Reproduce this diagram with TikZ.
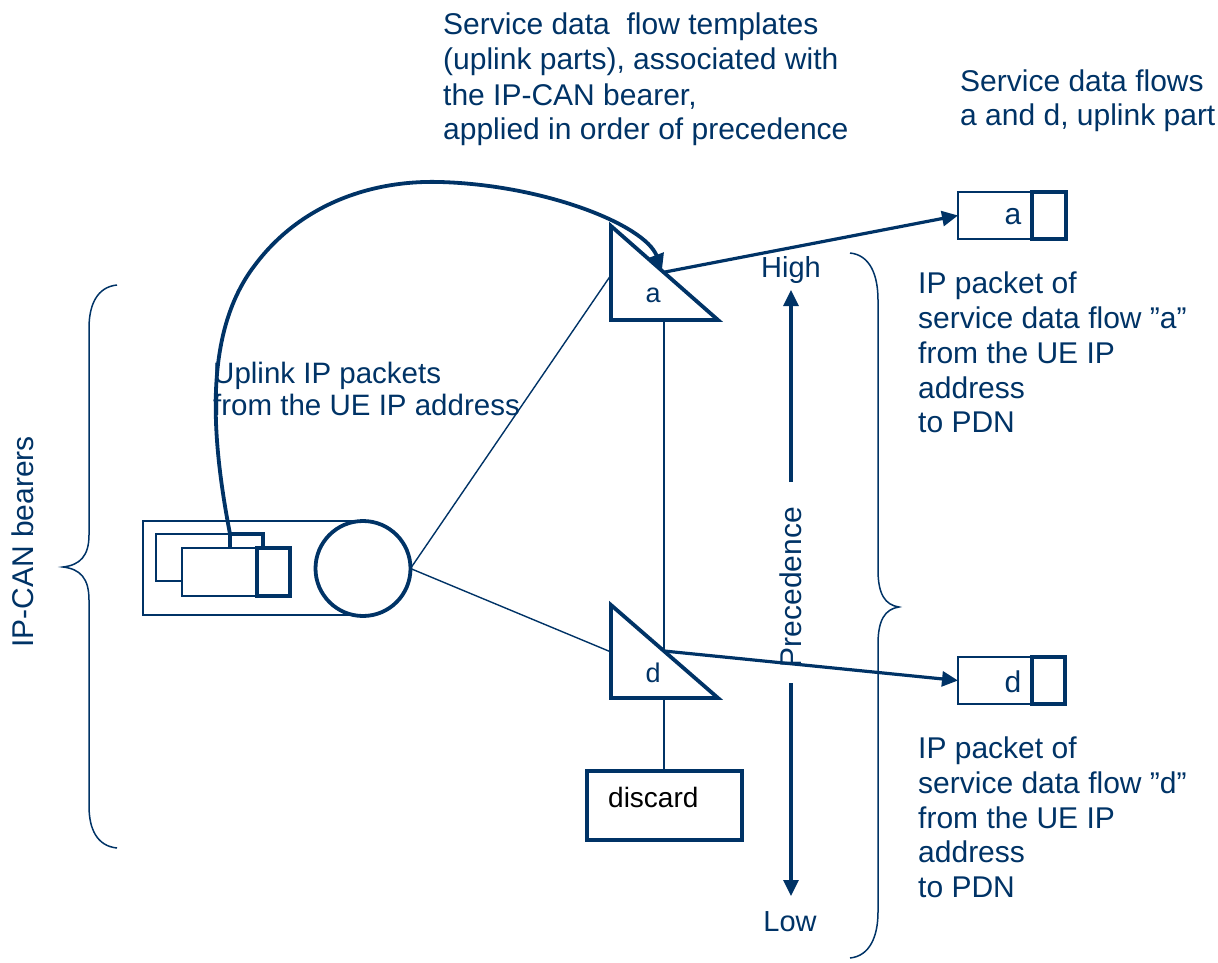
\documentclass[tikz,border=0pt]{standalone}
\usepackage{fontspec}
\setmainfont{Liberation Sans}
\usetikzlibrary{arrows.meta}
\definecolor{dblue}{RGB}{0,51,102}
\begin{document}
\begin{tikzpicture}[x=1pt,y=-1pt,
  txt/.style={text=dblue, inner sep=0pt, anchor=base west, font=\fontsize{30}{35}\selectfont},
  thinl/.style={draw=dblue, line width=1.4pt},
  thickl/.style={draw=dblue, line width=3.8pt, line join=miter},
  arr/.style={draw=dblue, line width=3.2pt, -{Triangle[length=16pt,width=15pt]}},
  pktbig/.style={draw=dblue, line width=1.4pt, fill=white, inner sep=0pt, outer sep=0pt},
  pktsmall/.style={draw=dblue, line width=3.8pt, fill=white, inner sep=0pt, outer sep=0pt},
  lbl/.style={text=dblue, inner sep=0pt, font=\fontsize{28}{30}\selectfont},
  bracel/.style={draw=dblue, line width=1.5pt},
]
\useasboundingbox (0,0) rectangle (1218,963);

% ---------- top texts ----------
\node[txt] (st1) at (443,35) {Service data\ \ flow templates};
\node[txt] (st2) at (443,70) {(uplink parts), associated with};
\node[txt] (st3) at (443,106) {the IP-CAN bearer,};
\node[txt] (st4) at (443,140) {applied in order of precedence};

\node[txt] (sf1) at (960,92) {Service data flows};
\node[txt] (sf2) at (960,126) {a and d, uplink part};

% ---------- IP packet texts ----------
\node[txt] (pa1) at (918,293) {IP packet of};
\node[txt] (pa2) at (918,328) {service data flow ”a”};
\node[txt] (pa3) at (918,363) {from the UE IP};
\node[txt] (pa4) at (918,398) {address};
\node[txt] (pa5) at (918,432) {to PDN};

\node[txt] (pd1) at (918,758) {IP packet of};
\node[txt] (pd2) at (918,793) {service data flow ”d”};
\node[txt] (pd3) at (918,828) {from the UE IP};
\node[txt] (pd4) at (918,862) {address};
\node[txt] (pd5) at (918,897) {to PDN};

\node[txt, font=\fontsize{29.5}{32}\selectfont] (up1) at (213,383) {Uplink IP packets};
\node[txt, font=\fontsize{29.5}{32}\selectfont] (up2) at (213,415) {from the UE IP address};

% ---------- left bearer ----------
\node[pktbig, minimum width=220pt, minimum height=94pt] (outer) at (253,568) {};
\node[pktbig, minimum width=74pt, minimum height=47pt] (bb) at (193,557.5) {};
\node[pktsmall, minimum width=33pt, minimum height=47pt] (bs) at (246.5,557.5) {};
\node[pktbig, minimum width=75pt, minimum height=48pt] (fb) at (219.5,572) {};
\node[pktsmall, minimum width=33pt, minimum height=48pt] (fs) at (273.5,572) {};
\node[draw=dblue, line width=3.8pt, fill=white, circle, minimum size=95pt, inner sep=0pt, outer sep=0pt] (circ) at (363,568.5) {};

% ---------- triangles ----------
\coordinate (aT) at (611,226);
\coordinate (aL) at (611,320);
\coordinate (aR) at (718,320);
\coordinate (dT) at (611,605);
\coordinate (dL) at (611,698);
\coordinate (dR) at (718,698);
\coordinate (ha) at (665,272);
\coordinate (hd) at (664,651);
\coordinate (aB) at (664,320);
\coordinate (dB) at (664,698);
\coordinate (aE) at (611,275);
\coordinate (dE) at (611,652);
\coordinate (tipA) at (662,270);

\draw[thinl] (circ.east) -- (aE);
\draw[thinl] (circ.east) -- (dE);
\draw[thinl] (aB) -- (hd);

\draw[thickl, fill=white] (aT) -- (aL) -- (aR) -- cycle;
\draw[thickl, fill=white] (dT) -- (dL) -- (dR) -- cycle;
\node[lbl, font=\fontsize{27}{30}\selectfont] (la) at (653,295) {a};
\node[lbl, font=\fontsize{27}{30}\selectfont] (ld) at (653,673) {d};

% ---------- discard ----------
\node[draw=dblue, line width=3.5pt, minimum width=155pt, minimum height=69pt, inner sep=0pt] (disc) at (664.5,805.5) {};
\node[inner sep=0pt, anchor=base west, text=black, font=\fontsize{28}{30}\selectfont] (disct) at (608,807) {discard};
\draw[thinl] (dB) -- (disc.north -| dB);

% ---------- output packets ----------
\node[pktbig, minimum width=74pt, minimum height=47pt] (pa) at (995,215.5) {};
\node[pktsmall, minimum width=34pt, minimum height=47pt, anchor=west] (pas) at (pa.east) {};
\node[lbl, font=\fontsize{30}{30}\selectfont] (pal) at (1013,217) {a};
\node[pktbig, minimum width=74pt, minimum height=47pt] (pd) at (995,680.5) {};
\node[pktsmall, minimum width=33pt, minimum height=47pt, anchor=west] (pds) at (pd.east) {};
\node[lbl, font=\fontsize{30}{30}\selectfont] (pdl) at (1013,682) {d};

\draw[arr] (ha) -- (pa.west);
\draw[arr] (hd) -- (pd.west);

% ---------- curved arrow ----------
\draw[draw=dblue, line width=3.8pt, -{Triangle[length=16pt,width=15pt]}]
  (bs.north west) .. controls (210,430) and (205,330) .. (255,265)
  .. controls (300,205) and (370,180) .. (440,182)
  .. controls (545,185) and (645,225) .. (tipA);

% ---------- precedence ----------
\node[text=dblue, inner sep=0pt, rotate=90, font=\fontsize{30}{30}\selectfont] (prec) at (791,587) {Precedence};
\node[text=dblue, inner sep=0pt, font=\fontsize{29}{30}\selectfont] (high) at (791,270) {High};
\node[text=dblue, inner sep=0pt, font=\fontsize{29}{30}\selectfont] (low) at (790,922) {Low};
\coordinate (pu0) at (791,482);
\coordinate (pu1) at (791,290);
\coordinate (pd0) at (791,683);
\coordinate (pd1) at (791,896);
\draw[arr] (pu0) -- (pu1);
\draw[arr] (pd0) -- (pd1);

% ---------- braces ----------
\draw[bracel] (117,285) .. controls (97,287) and (89,305) .. (89,328) -- (89,535)
  .. controls (89,556) and (80,565) .. (63,567)
  .. controls (80,569) and (89,578) .. (89,600) -- (89,806)
  .. controls (89,829) and (97,846) .. (117,848);
\draw[bracel] (850,253) .. controls (870,255) and (878,275) .. (878,300) -- (878,570)
  .. controls (878,594) and (885,605) .. (899,607)
  .. controls (885,609) and (878,620) .. (878,644) -- (878,912)
  .. controls (878,936) and (870,956) .. (850,958);

\node[text=dblue, inner sep=0pt, rotate=90, font=\fontsize{30}{30}\selectfont] (ipcan) at (23,542) {IP-CAN bearers};
\end{tikzpicture}
\end{document}
